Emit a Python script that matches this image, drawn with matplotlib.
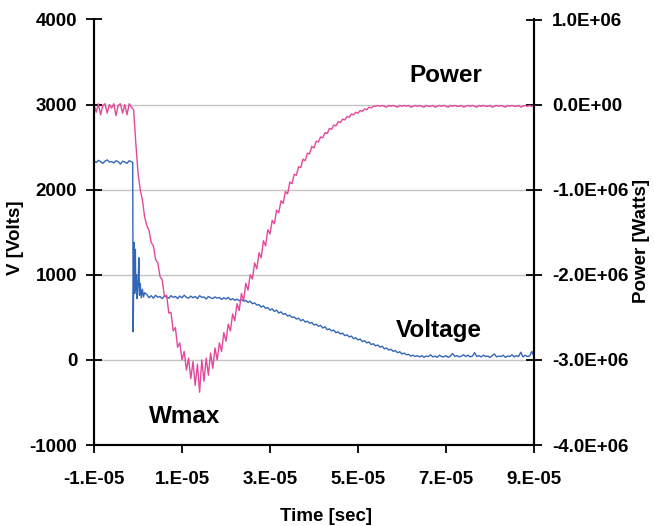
import matplotlib
matplotlib.use("Agg")
import matplotlib.pyplot as plt

# sample times in microseconds (shared by both traces)
time_us = [
    -10.0, -9.5, -9.0, -8.5, -8.0, -7.5, -7.0, -6.5, -6.0, -5.5,
    -5.0, -4.5, -4.0, -3.5, -3.0, -2.5, -2.0, -1.5, -1.0, -0.5,
    0.0, 0.5, 1.0, 1.5, 2.0, 2.5, 3.0, 3.5, 4.0, 4.5,
    5.0, 5.5, 6.0, 6.5, 7.0, 7.5, 8.0, 8.5, 9.0, 9.5,
    10.0, 10.5, 11.0, 11.5, 12.0, 12.5, 13.0, 13.5, 14.0, 14.5,
    15.0, 15.5, 16.0, 16.5, 17.0, 17.5, 18.0, 18.5, 19.0, 19.5,
    20.0, 20.5, 21.0, 21.5, 22.0, 22.5, 23.0, 23.5, 24.0, 24.5,
    25.0, 25.5, 26.0, 26.5, 27.0, 27.5, 28.0, 28.5, 29.0, 29.5,
    30.0, 30.5, 31.0, 31.5, 32.0, 32.5, 33.0, 33.5, 34.0, 34.5,
    35.0, 35.5, 36.0, 36.5, 37.0, 37.5, 38.0, 38.5, 39.0, 39.5,
    40.0, 40.5, 41.0, 41.5, 42.0, 42.5, 43.0, 43.5, 44.0, 44.5,
    45.0, 45.5, 46.0, 46.5, 47.0, 47.5, 48.0, 48.5, 49.0, 49.5,
    50.0, 50.5, 51.0, 51.5, 52.0, 52.5, 53.0, 53.5, 54.0, 54.5,
    55.0, 55.5, 56.0, 56.5, 57.0, 57.5, 58.0, 58.5, 59.0, 59.5,
    60.0, 60.5, 61.0, 61.5, 62.0, 62.5, 63.0, 63.5, 64.0, 64.5,
    65.0, 65.5, 66.0, 66.5, 67.0, 67.5, 68.0, 68.5, 69.0, 69.5,
    70.0, 70.5, 71.0, 71.5, 72.0, 72.5, 73.0, 73.5, 74.0, 74.5,
    75.0, 75.5, 76.0, 76.5, 77.0, 77.5, 78.0, 78.5, 79.0, 79.5,
    80.0, 80.5, 81.0, 81.5, 82.0, 82.5, 83.0, 83.5, 84.0, 84.5,
    85.0, 85.5, 86.0, 86.5, 87.0, 87.5, 88.0, 88.5, 89.0, 89.5,
    90.0,
]

# power in MW
power_mw = [
    0.00, -0.09, 0.01, -0.12, -0.01, 0.01, -0.10, 0.00, -0.04, 0.01,
    -0.13, -0.01, 0.01, -0.10, 0.00, -0.12, 0.01, -0.03, -0.06, -0.45,
    -0.80, -1.00, -1.12, -1.32, -1.42, -1.48, -1.62, -1.66, -1.82, -1.86,
    -2.02, -2.06, -2.25, -2.24, -2.45, -2.44, -2.66, -2.62, -2.85, -2.80,
    -3.00, -2.90, -3.12, -2.98, -3.22, -3.02, -3.30, -3.05, -3.38, -3.00,
    -3.25, -2.98, -3.18, -2.92, -3.10, -2.86, -3.00, -2.80, -2.90, -2.68,
    -2.78, -2.58, -2.66, -2.46, -2.54, -2.34, -2.42, -2.22, -2.30, -2.10,
    -2.18, -2.00, -2.05, -1.86, -1.93, -1.74, -1.80, -1.60, -1.66, -1.47,
    -1.52, -1.36, -1.40, -1.24, -1.27, -1.13, -1.16, -1.02, -1.05, -0.91,
    -0.93, -0.82, -0.83, -0.73, -0.74, -0.64, -0.66, -0.57, -0.58, -0.49,
    -0.51, -0.43, -0.44, -0.38, -0.39, -0.33, -0.34, -0.28, -0.29, -0.24,
    -0.25, -0.20, -0.21, -0.17, -0.18, -0.14, -0.15, -0.11, -0.12, -0.09,
    -0.10, -0.07, -0.08, -0.05, -0.06, -0.03, -0.04, -0.02, -0.02, -0.01,
    -0.02, -0.01, -0.02, -0.03, -0.01, -0.02, -0.01, -0.02, -0.03, -0.01,
    -0.02, -0.01, -0.02, -0.01, -0.03, -0.02, -0.01, -0.02, -0.01, -0.02,
    -0.03, -0.01, -0.02, -0.02, -0.01, -0.03, -0.02, -0.01, -0.02, -0.01,
    -0.02, -0.03, -0.01, -0.02, -0.01, -0.02, -0.02, -0.01, -0.03, -0.02,
    -0.01, -0.02, -0.01, -0.02, -0.03, -0.01, -0.02, -0.01, -0.02, -0.02,
    -0.01, -0.03, -0.02, -0.01, -0.02, -0.01, -0.02, -0.03, -0.01, -0.02,
    -0.01, -0.02, -0.02, -0.01, -0.03, -0.02, -0.01, -0.02, -0.01, -0.02,
    -0.01,
]

# voltage in volts on the same grid
volt_v = [
    2340, 2320, 2345, 2330, 2310, 2335, 2350, 2325, 2330, 2315,
    2340, 2330, 2300, 2335, 2325, 2310, 2340, 2330, 900, 820,
    880, 900, 830, 790, 770, 730, 755, 725, 760, 735,
    745, 720, 750, 740, 725, 755, 735, 745, 720, 750,
    730, 760, 735, 725, 750, 730, 745, 720, 755, 735,
    740, 715, 745, 730, 720, 740, 725, 735, 710, 730,
    715, 735, 705, 720, 700, 715, 695, 710, 690, 700,
    675, 690, 660, 670, 645, 650, 620, 635, 605, 615,
    585, 600, 570, 585, 550, 565, 535, 545, 515, 525,
    500, 505, 480, 490, 460, 475, 445, 455, 430, 440,
    410, 420, 395, 405, 375, 390, 355, 365, 340, 350,
    320, 330, 305, 315, 285, 295, 270, 280, 250, 260,
    235, 245, 215, 225, 200, 210, 180, 190, 165, 175,
    150, 160, 130, 140, 115, 125, 100, 110, 85, 95,
    70, 80, 60, 65, 45, 55, 40, 50, 35, 50,
    30, 45, 40, 60, 35, 45, 30, 55, 40, 35,
    50, 30, 45, 75, 40, 50, 35, 45, 60, 40,
    55, 35, 45, 85, 40, 50, 35, 55, 40, 45,
    30, 50, 70, 35, 45, 40, 55, 30, 45, 40,
    60, 35, 50, 40, 90, 35, 55, 40, 45, 100,
    40,
]

# extra samples for the ringing right after the switch
ring_t = [-1.2, -1.1, -0.9, -0.75, -0.6, -0.35, -0.2, 0.2, 0.35, 0.75, 1.25]
ring_v = [2320, 330, 1380, 780, 1300, 1000, 720, 1200, 760, 730, 740]

x_ticks = [-1e-5, 1e-5, 3e-5, 5e-5, 7e-5, 9e-5]
x_labels = ['-1.E-05', '1.E-05', '3.E-05', '5.E-05', '7.E-05', '9.E-05']
v_ticks = [-1000, 0, 1000, 2000, 3000, 4000]
grid_v = [0, 1000, 2000, 3000]
p_ticks = [-4e6, -3e6, -2e6, -1e6, 0, 1e6]
p_labels = ['-4.0E+06', '-3.0E+06', '-2.0E+06', '-1.0E+06', '0.0E+00', '1.0E+06']

PINK = '#e3489a'
BLUE = '#3466b8'

plt.rcParams['font.family'] = ['Liberation Sans', 'DejaVu Sans']
plt.rcParams['font.weight'] = 'bold'
plt.rcParams['axes.labelweight'] = 'bold'
plt.rcParams['axes.unicode_minus'] = False
plt.rcParams['font.size'] = 13.5

fig = plt.figure(figsize=(6.54, 5.26), dpi=100)
ax = fig.add_axes([94 / 654, 1 - 445 / 526, 440 / 654, 425.5 / 526])
ax2 = ax.twinx()

# voltage trace with the ringing samples merged in
pairs = sorted(list(zip(time_us, volt_v)) + list(zip(ring_t, ring_v)))
vt = [p[0] * 1e-6 for p in pairs]
vv = [p[1] for p in pairs]

for g in grid_v:
    ax.axhline(g, color='#c4c4c4', lw=1.0, zorder=0)

ax.plot(vt, vv, color=BLUE, lw=1.0)
ax2.plot([t * 1e-6 for t in time_us], [p * 1e6 for p in power_mw],
         color=PINK, lw=1.0)

ax.set_xlim(-1e-5, 9e-5)
ax.set_ylim(-1000, 4000)
ax2.set_ylim(-4e6, 1e6)

ax.set_xticks(x_ticks)
ax.set_xticklabels(x_labels)
ax.set_yticks(v_ticks)
ax2.set_yticks(p_ticks)
ax2.set_yticklabels(p_labels)

ax.tick_params(axis='x', direction='out', length=6, width=1.3, pad=13)
ax.tick_params(axis='y', direction='inout', length=12, width=1.3, pad=6)
ax2.tick_params(axis='y', direction='inout', length=12, width=1.3, pad=7)

for a in (ax, ax2):
    a.spines['top'].set_visible(False)
    for side in ('left', 'right', 'bottom'):
        a.spines[side].set_linewidth(1.5)

ax.set_xlabel('Time [sec]')
ax.xaxis.set_label_coords(0.528, -0.148)
ax.set_ylabel('V [Volts]')
ax.yaxis.set_label_coords(-0.159, 0.486)
ax2.set_ylabel('Power [Watts]')
ax2.yaxis.set_label_coords(1.225, 0.48)

ax.text(70e-6, 3270, 'Power', fontsize=17.5, ha='center', va='baseline')
ax.text(68.4e-6, 274, 'Voltage', fontsize=17.5, ha='center', va='baseline')
ax.text(10.5e-6, -740, 'Wmax', fontsize=17.5, ha='center', va='baseline')

fig.savefig('out.png', dpi=100)
